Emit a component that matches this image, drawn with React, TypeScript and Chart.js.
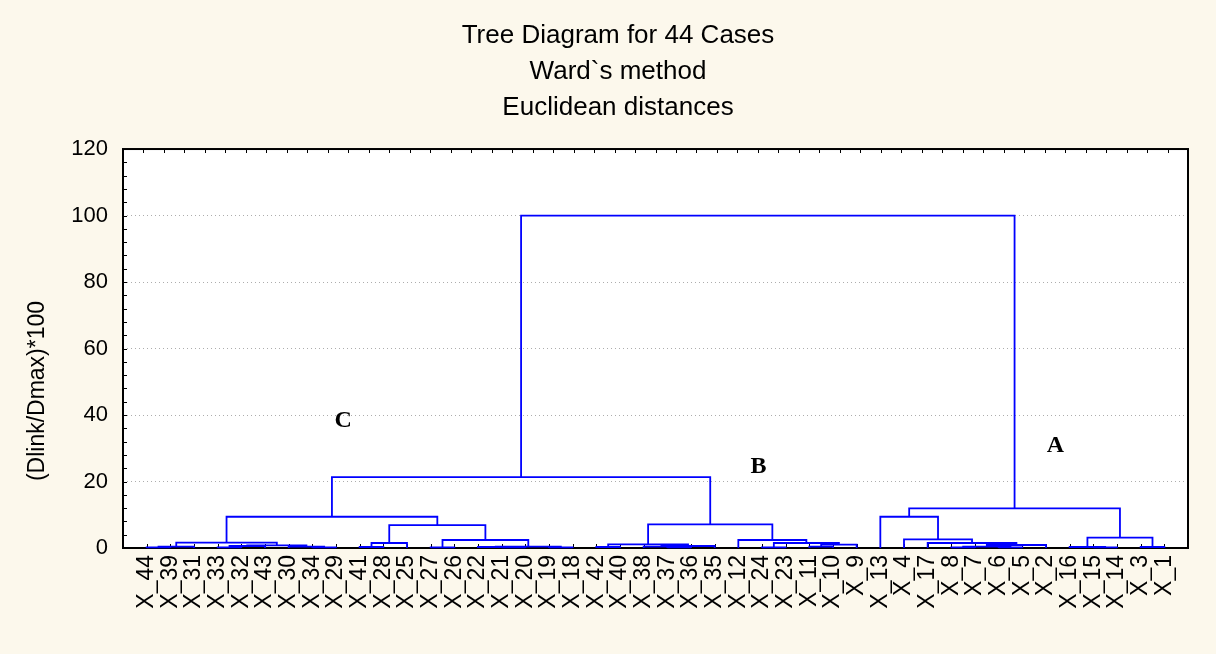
import React, { useEffect, useRef } from 'react';
import { Chart, registerables } from 'chart.js';

Chart.register(...registerables);

// Leaf order along the horizontal axis
const leafLabels = [
  'X_44', 'X_39', 'X_31', 'X_33', 'X_32', 'X_43', 'X_30', 'X_34', 'X_29', 'X_41',
  'X_28', 'X_25', 'X_27', 'X_26', 'X_22', 'X_21', 'X_20', 'X_19', 'X_18', 'X_42',
  'X_40', 'X_38', 'X_37', 'X_36', 'X_35', 'X_12', 'X_24', 'X_23', 'X_11', 'X_10',
  'X_9', 'X_13', 'X_4', 'X_17', 'X_8', 'X_7', 'X_6', 'X_5', 'X_2', 'X_16',
  'X_15', 'X_14', 'X_3', 'X_1',
];

// Merges: ids < 44 are leaves, id 44 + k is the cluster made by merge k
const mergeLeft = [
  0, 44, 3, 46, 7, 6, 47, 45, 9, 52,
  12, 15, 14, 17, 56, 54, 53, 51, 19, 22,
  21, 64, 62, 26, 28, 68, 67, 25, 66, 61,
  34, 36, 74, 76, 33, 32, 31, 40, 39, 42,
  82, 80, 73,
];
const mergeRight = [
  1, 2, 4, 5, 8, 48, 49, 50, 10, 11,
  13, 16, 55, 18, 57, 58, 59, 60, 20, 23,
  63, 24, 65, 27, 29, 30, 69, 70, 71, 72,
  35, 37, 75, 38, 77, 78, 79, 41, 81, 43,
  83, 84, 85,
];
const mergeHeight = [
  0.2, 0.4, 0.2, 0.6, 0.2, 0.4, 0.8, 1.6, 0.3, 1.5,
  0.2, 0.2, 0.3, 0.2, 0.4, 2.4, 6.9, 9.4, 0.3, 0.2,
  0.4, 0.6, 1.1, 0.2, 0.4, 1.0, 1.5, 2.4, 7.1, 21.3,
  0.2, 0.2, 0.4, 0.9, 1.5, 2.6, 9.4, 0.2, 0.3, 0.3,
  3.1, 11.9, 100,
];

const titleLines = ['Tree Diagram for 44 Cases', 'Ward`s method', 'Euclidean distances'];
const yAxisTitle = '(Dlink/Dmax)*100';
const yMin = 0;
const yMax = 120;
const yStep = 20;

// Group letters written inside the plot (x in leaf units, y in axis units)
const groupLetters = ['C', 'B', 'A'];
const groupX = [8.3, 25.85, 38.4];
const groupY = [38.2, 24.5, 30.8];

const BLUE = '#0000FF';
const CREAM = '#FCF8EC';
const SANS = '"Liberation Sans", Arial, sans-serif';

const decorPlugin = {
  id: 'decor',
  beforeDraw(chart: any) {
    const { ctx, chartArea: a, width, height } = chart;
    ctx.save();
    ctx.fillStyle = CREAM;
    ctx.fillRect(0, 0, width, height);
    ctx.fillStyle = '#FFFFFF';
    ctx.fillRect(a.left, a.top, a.right - a.left, a.bottom - a.top);
    ctx.restore();
  },
  beforeDatasetsDraw(chart: any) {
    const { ctx, chartArea: a } = chart;
    const xs = chart.scales.x;
    const ys = chart.scales.y;
    ctx.save();
    ctx.strokeStyle = '#000000';
    ctx.lineWidth = 1;
    ctx.beginPath();
    leafLabels.forEach((_, i) => {
      const px = Math.round(xs.getPixelForValue(i)) + 0.5;
      ctx.moveTo(px, a.bottom);
      ctx.lineTo(px, a.bottom - 4);
    });
    for (let k = 1; k < 52; k++) {
      const px = Math.round(xs.getPixelForValue(xs.min + ((xs.max - xs.min) * k) / 52)) + 0.5;
      ctx.moveTo(px, a.top);
      ctx.lineTo(px, a.top + 4);
    }
    for (let v = yMin + 4; v < yMax; v += 4) {
      const py = Math.round(ys.getPixelForValue(v)) + 0.5;
      ctx.moveTo(a.left, py);
      ctx.lineTo(a.left + 4, py);
    }
    ctx.stroke();
    ctx.lineWidth = 2;
    ctx.strokeRect(a.left, a.top, a.right - a.left, a.bottom - a.top);
    ctx.restore();

    // vertical axis title
    ctx.save();
    ctx.fillStyle = '#000000';
    ctx.font = `23px ${SANS}`;
    ctx.textAlign = 'center';
    ctx.textBaseline = 'middle';
    ctx.translate(38, 391);
    ctx.rotate(-Math.PI / 2);
    ctx.fillText(yAxisTitle, 0, 0);
    ctx.restore();
  },
  afterDatasetsDraw(chart: any) {
    const { ctx } = chart;
    const xs = chart.scales.x;
    const ys = chart.scales.y;
    ctx.save();
    ctx.fillStyle = '#000000';
    ctx.font = 'bold 24px "Liberation Serif", "Times New Roman", serif';
    ctx.textAlign = 'center';
    ctx.textBaseline = 'middle';
    groupLetters.forEach((t, i) => {
      ctx.fillText(t, xs.getPixelForValue(groupX[i]), ys.getPixelForValue(groupY[i]));
    });
    ctx.restore();
  },
};

export default function App() {
  const ref = useRef<HTMLCanvasElement>(null);

  useEffect(() => {
    if (!ref.current) return;
    const n = leafLabels.length;
    const pos: number[] = leafLabels.map((_, i) => i);
    const hgt: number[] = leafLabels.map(() => 0);
    const datasets = mergeLeft.map((l, k) => {
      const r = mergeRight[k];
      const h = mergeHeight[k];
      const d = [
        { x: pos[l], y: hgt[l] },
        { x: pos[l], y: h },
        { x: pos[r], y: h },
        { x: pos[r], y: hgt[r] },
      ];
      pos[n + k] = (pos[l] + pos[r]) / 2;
      hgt[n + k] = h;
      return {
        data: d,
        borderColor: BLUE,
        backgroundColor: BLUE,
        borderWidth: 1.8,
        pointRadius: 0,
        showLine: true,
        fill: false,
        tension: 0,
        clip: false as any,
      };
    });

    const chart = new Chart(ref.current, {
      type: 'scatter',
      data: { datasets },
      plugins: [decorPlugin],
      options: {
        responsive: false,
        animation: false,
        devicePixelRatio: 1,
        events: [],
        layout: { padding: { left: 20, right: 0, top: 0, bottom: 0 } },
        plugins: {
          legend: { display: false },
          tooltip: { enabled: false },
          title: {
            display: true,
            text: titleLines,
            color: '#000000',
            font: { family: SANS, size: 26, weight: 'normal', lineHeight: 1.385 },
            padding: { top: 18, bottom: 23 },
          },
        },
        scales: {
          x: {
            type: 'linear',
            min: -1,
            max: n,
            grid: { display: false, drawTicks: false },
            border: { display: false },
            afterFit: (s: any) => {
              s.height = 106;
              s.paddingLeft = 0;
              s.paddingRight = 0;
            },
            ticks: {
              stepSize: 1,
              autoSkip: false,
              maxTicksLimit: 200,
              minRotation: 90,
              maxRotation: 90,
              padding: 7,
              color: '#000000',
              font: { family: SANS, size: 23 },
              callback: (v: any) => (Number.isInteger(v) && v >= 0 && v < n ? leafLabels[v] : ''),
            },
          },
          y: {
            type: 'linear',
            min: yMin,
            max: yMax,
            afterFit: (s: any) => { s.width = 103; },
            grid: {
              drawTicks: false,
              color: (c: any) => (c.tick && (c.tick.value === yMin || c.tick.value === yMax) ? 'rgba(0,0,0,0)' : '#ADADAD'),
              lineWidth: 1,
            },
            border: { display: false, dash: [1, 3] },
            ticks: {
              stepSize: yStep,
              padding: 15,
              color: '#000000',
              font: { family: SANS, size: 22 },
            },
          },
          yRight: {
            type: 'linear',
            position: 'right',
            min: yMin,
            max: yMax,
            grid: { display: false, drawTicks: false },
            border: { display: false },
            ticks: { display: false },
            afterFit: (s: any) => { s.width = 28; },
          },
        },
      } as any,
    });
    return () => chart.destroy();
  }, []);

  return (
    <div style={{ position: 'fixed', left: 0, top: 0, width: 1216, height: 654, background: CREAM }}>
      <canvas ref={ref} width={1216} height={654} style={{ display: 'block' }} />
    </div>
  );
}
